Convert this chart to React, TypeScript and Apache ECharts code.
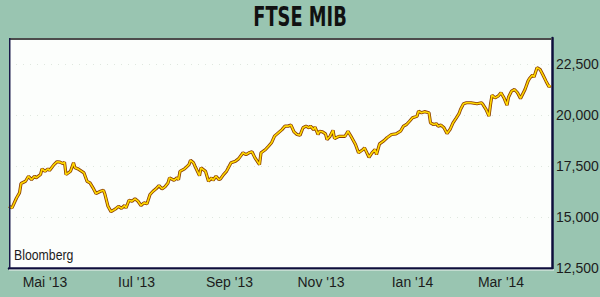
import React, { useEffect, useRef } from "react";
import * as echarts from "echarts";

const dates: string[] = [
  "2013-04-07","2013-04-09","2013-04-12","2013-04-14","2013-04-15","2013-04-18","2013-04-20","2013-04-22","2013-04-24","2013-04-25",
  "2013-04-28","2013-04-29","2013-05-01","2013-05-03","2013-05-04","2013-05-07","2013-05-09","2013-05-11","2013-05-13","2013-05-14",
  "2013-05-15","2013-05-18","2013-05-20","2013-05-21","2013-05-23","2013-05-27","2013-05-29","2013-05-31","2013-06-02","2013-06-04",
  "2013-06-07","2013-06-09","2013-06-10","2013-06-12","2013-06-14","2013-06-17","2013-06-19","2013-06-21","2013-06-23","2013-06-24",
  "2013-06-26","2013-06-28","2013-06-30","2013-07-02","2013-07-04","2013-07-06","2013-07-08","2013-07-10","2013-07-12","2013-07-14",
  "2013-07-16","2013-07-18","2013-07-20","2013-07-22","2013-07-23","2013-07-26","2013-07-28","2013-07-29","2013-07-30","2013-08-02",
  "2013-08-05","2013-08-06","2013-08-08","2013-08-09","2013-08-12","2013-08-13","2013-08-16","2013-08-18","2013-08-20","2013-08-21",
  "2013-08-23","2013-08-25","2013-08-26","2013-08-28","2013-08-30","2013-09-02","2013-09-05","2013-09-07","2013-09-10","2013-09-12",
  "2013-09-14","2013-09-16","2013-09-18","2013-09-21","2013-09-22","2013-09-25","2013-09-27","2013-09-29","2013-10-01","2013-10-06",
  "2013-10-08","2013-10-10","2013-10-12","2013-10-14","2013-10-16","2013-10-18","2013-10-20","2013-10-22","2013-10-24","2013-10-25",
  "2013-10-27","2013-10-28","2013-10-30","2013-10-31","2013-11-02","2013-11-04","2013-11-05","2013-11-07","2013-11-09","2013-11-10",
  "2013-11-13","2013-11-15","2013-11-17","2013-11-19","2013-11-21","2013-11-24","2013-11-26","2013-11-29","2013-11-30","2013-12-03",
  "2013-12-05","2013-12-07","2013-12-08","2013-12-10","2013-12-13","2013-12-15","2013-12-18","2013-12-21","2013-12-24","2013-12-26",
  "2013-12-28","2013-12-30","2014-01-01","2014-01-04","2014-01-05","2014-01-07","2014-01-09","2014-01-12","2014-01-13","2014-01-15",
  "2014-01-17","2014-01-18","2014-01-20","2014-01-22","2014-01-24","2014-01-26","2014-01-28","2014-01-30","2014-02-01","2014-02-02",
  "2014-02-04","2014-02-06","2014-02-09","2014-02-13","2014-02-16","2014-02-17","2014-02-19","2014-02-21","2014-02-22","2014-02-23",
  "2014-02-25","2014-02-27","2014-03-01","2014-03-03","2014-03-05","2014-03-06","2014-03-08","2014-03-10","2014-03-12","2014-03-14",
  "2014-03-17","2014-03-19","2014-03-20","2014-03-22","2014-03-23","2014-03-25","2014-03-27","2014-03-29","2014-03-31","2014-04-02",
  "2014-04-03",
];

const values: number[] = [
  15530,15450,15940,16190,16650,16760,17010,16840,17010,16930,
  17090,17370,17250,17370,17290,17580,17720,17700,17630,17700,
  17090,17250,17670,17420,17370,17170,16760,16680,16440,16160,
  16270,16320,16110,15530,15270,15400,15530,15430,15570,15450,
  15830,15780,15900,15780,15570,15700,15660,16110,16270,16390,
  16550,16390,16490,16680,16930,16810,16930,16840,17250,17370,
  17580,17790,17670,17500,17040,17420,17250,16760,16930,16810,
  17010,16840,16880,17090,17250,17670,17750,17860,18160,18070,
  18160,18210,17910,17580,18160,18320,18480,18650,18980,19300,
  19470,19470,19520,19190,19060,19020,19390,19470,19390,19470,
  19300,19420,19060,19220,19190,19090,18810,18970,19260,18860,
  18970,18970,18970,19220,18970,18570,18160,18320,18400,17940,
  18160,18320,18070,18600,18760,18900,19060,19090,19220,19470,
  19550,19710,19880,19960,20200,20130,20180,20130,19630,19550,
  19590,19470,19520,19390,19110,19300,19630,19850,20080,20290,
  20570,20620,20620,20570,20620,20530,20290,19960,20530,20990,
  20860,20940,21110,20860,20500,20890,21190,21270,21110,20830,
  21270,21680,21810,21980,21880,22340,22260,21980,21680,21400,
  21470,
];

const axisStart = "2013-04-07";
const axisEnd = "2014-04-04";
const monthTicks: string[] = ["2013-05-01", "2013-07-01", "2013-09-01", "2013-11-01", "2014-01-01", "2014-03-01"];
const monthLabels: string[] = ["Mai '13", "Iul '13", "Sep '13", "Nov '13", "Ian '14", "Mar '14"];
const yMin = 12500;
const yMax = 23800;
const yStep = 2500;
const titleText = "FTSE MIB";
const sourceText = "Bloomberg";

const toTs = (s: string) => {
  const [y, m, d] = s.split("-").map(Number);
  return Date.UTC(y, m - 1, d);
};

const LABEL_FONT = "'Liberation Sans', Arial, sans-serif";
const TITLE_FONT = "'DejaVu Sans', sans-serif";

export default function App() {
  const ref = useRef<HTMLDivElement>(null);
  useEffect(() => {
    if (!ref.current) return;
    const chart = echarts.init(ref.current, null, { renderer: "svg" });
    const data = dates.map((d, i) => [toTs(d), values[i]]);
    const tickTs = monthTicks.map(toTs);
    const gl = 9, gt = 38, gr = 48, gb = 29;
    const pw = 600 - gl - gr;
    const ph = 297 - gt - gb;
    chart.setOption({
      animation: false,
      backgroundColor: "#99c5b1",
      grid: {
        left: gl, right: gr, top: gt, bottom: gb,
        show: true, backgroundColor: "#fcfefc", borderWidth: 0,
        containLabel: false, outerBoundsMode: "none",
      },
      xAxis: {
        type: "value",
        min: toTs(axisStart),
        max: toTs(axisEnd),
        axisLine: { show: true, lineStyle: { color: "#0e0e3c", width: 2.5 } },
        axisTick: { show: false },
        splitLine: { show: false },
        axisLabel: {
          customValues: tickTs,
          formatter: (v: number) => {
            let best = 0;
            let bd = Infinity;
            tickTs.forEach((t, i) => {
              const dd = Math.abs(t - v);
              if (dd < bd) { bd = dd; best = i; }
            });
            return bd < 3 * 86400000 ? monthLabels[best] : "";
          },
          color: "#1c1c1c",
          fontSize: 14,
          fontFamily: LABEL_FONT,
          margin: 7,
          hideOverlap: false,
        },
      },
      yAxis: {
        type: "value",
        position: "right",
        min: yMin,
        max: yMax,
        interval: yStep,
        axisLine: { show: true, lineStyle: { color: "#0e0e3c", width: 2.5 } },
        axisTick: { show: false },
        splitLine: { show: true, lineStyle: { color: "#dfe7df", type: [1, 6], width: 1 } },
        axisLabel: {
          showMaxLabel: false,
          formatter: (v: number) => (v % yStep === 0 ? v.toLocaleString("en-US") : ""),
          color: "#1c1c1c",
          fontSize: 14,
          fontFamily: LABEL_FONT,
          margin: 4,
        },
      },
      graphic: [
        {
          type: "text",
          x: 300,
          y: 17,
          scaleX: 0.66,
          style: {
            text: titleText,
            fill: "#111",
            font: `bold 27px ${TITLE_FONT}`,
            textAlign: "center",
            textVerticalAlign: "middle",
          },
        },
        { type: "rect", shape: { x: gl, y: gt, width: pw, height: 2 }, style: { fill: "#4c4c4c" }, z: 10 },
        { type: "rect", shape: { x: gl, y: gt, width: 1.5, height: ph }, style: { fill: "#1a1a4a" }, z: 10 },
        { type: "rect", shape: { x: gl, y: gt + ph + 1.5, width: pw + 2, height: 1 }, style: { fill: "#eef4f0" }, z: 10 },
        {
          type: "text",
          x: 14,
          y: 255,
          scaleX: 0.82,
          style: {
            text: sourceText,
            fill: "#1c1c1c",
            font: `15px ${LABEL_FONT}`,
            textAlign: "left",
            textVerticalAlign: "middle",
          },
          z: 10,
        },
      ],
      series: [
        {
          type: "line",
          data,
          symbol: "none",
          lineStyle: { color: "#8a3c00", width: 3.2 },
          z: 2,
        },
        {
          type: "line",
          data,
          symbol: "none",
          lineStyle: { color: "#ffd800", width: 1.6 },
          z: 3,
        },
      ],
    });
    return () => chart.dispose();
  }, []);
  return <div ref={ref} style={{ position: "fixed", left: 0, top: 0, width: 600, height: 297 }} />;
}
